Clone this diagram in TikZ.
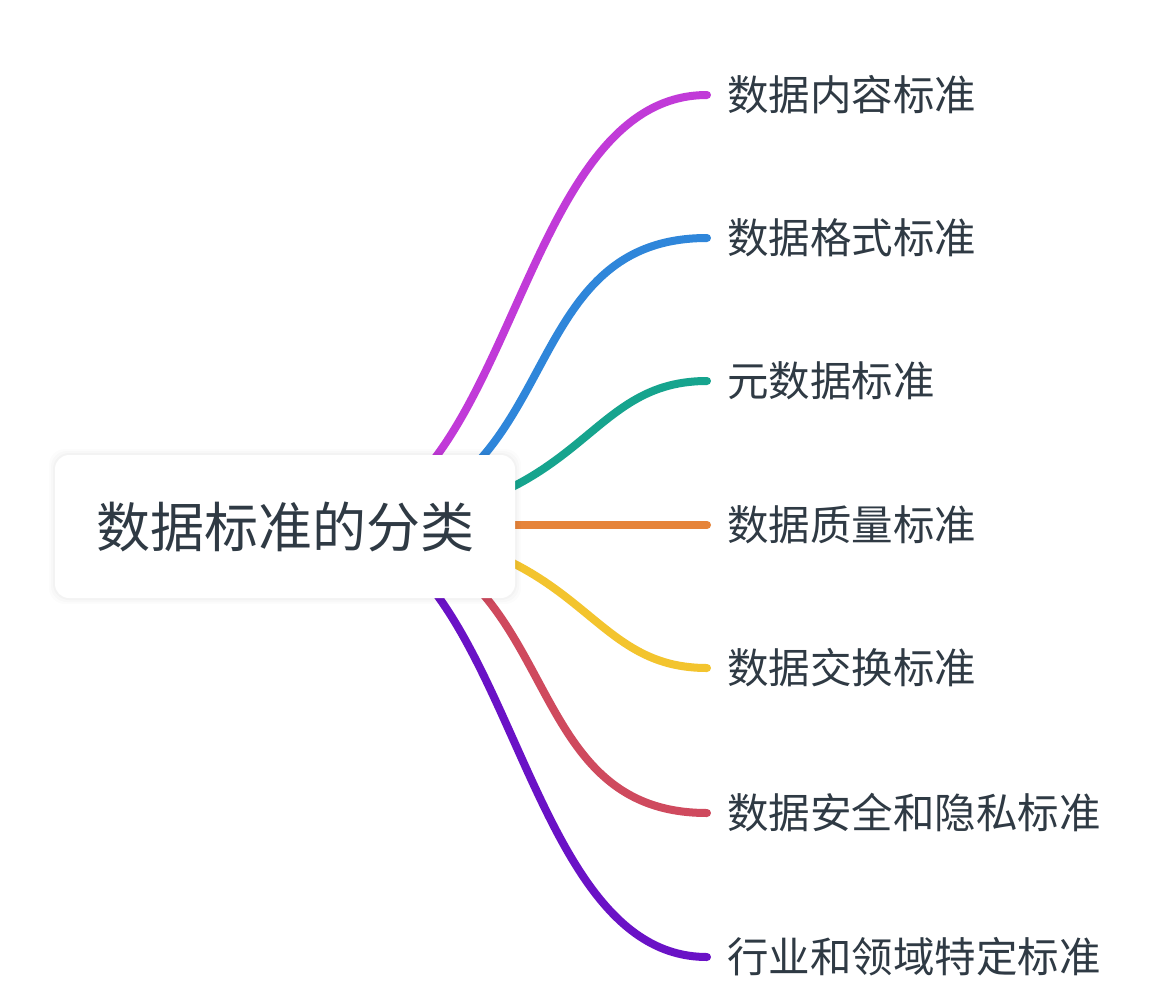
\documentclass[tikz,border=0pt]{standalone}
\usepackage{fontspec}
\setmainfont{Noto Sans CJK SC}
\usetikzlibrary{calc}
\definecolor{txt}{HTML}{2F3A44}
\definecolor{cA}{HTML}{C13AD8}
\definecolor{cB}{HTML}{2F86DA}
\definecolor{cC}{HTML}{16A48E}
\definecolor{cD}{HTML}{E6843A}
\definecolor{cE}{HTML}{F3C42E}
\definecolor{cF}{HTML}{CF4A5E}
\definecolor{cG}{HTML}{6A12C6}
\pgfdeclarelayer{bg}
\pgfsetlayers{bg,main}
\tikzset{
  leaf/.style={anchor=west, inner xsep=20pt, inner ysep=0pt, text=txt,
    font=\fontsize{41.5pt}{50pt}\selectfont, text height=36.5pt, text depth=5pt},
  rootbox/.style={rounded corners=14pt, fill=white, minimum width=460pt, minimum height=143pt,
    text=txt, font=\fontsize{54pt}{64pt}\selectfont, text height=47.5pt, text depth=6.5pt},
  branch/.style={line width=8pt, line cap=round}
}
\begin{document}
\begin{tikzpicture}[x=1pt,y=1pt]
\useasboundingbox (0,0) rectangle (1175,-991);
\coordinate (hub) at (320,-525);
\node[leaf] (l1) at (707,-95) {数据内容标准};
\node[leaf] (l2) at (707,-238) {数据格式标准};
\node[leaf] (l3) at (707,-381) {元数据标准};
\node[leaf] (l4) at (707,-525) {数据质量标准};
\node[leaf] (l5) at (707,-668) {数据交换标准};
\node[leaf] (l6) at (707,-813) {数据安全和隐私标准};
\node[leaf] (l7) at (707,-957) {行业和领域特定标准};
\begin{pgfonlayer}{bg}
\fill[white] (0,0) rectangle (1175,-991);
\foreach \n/\c/\ca/\cb in {l1/cA/514/514,l2/cB/575/500,l3/cC/590/575,l5/cE/590/575,l6/cF/575/500,l7/cG/514/514}{
  \draw[branch, draw=\c] (hub) .. controls (hub -| {(\ca,0)}) and (\n.west -| {(\cb,0)}) .. (\n.west);
}
\draw[branch, draw=cD] (hub) -- (l4.west);
\end{pgfonlayer}
% soft shadow
\foreach \k/\o in {6/0.012,4/0.015,2/0.02}{
  \fill[black, opacity=\o, rounded corners=16pt] (55-\k,-455+\k) rectangle (515+\k,-598-\k);
}
\node[rootbox] (root) at (285,-526.5) {数据标准的分类};
\end{tikzpicture}
\end{document}
